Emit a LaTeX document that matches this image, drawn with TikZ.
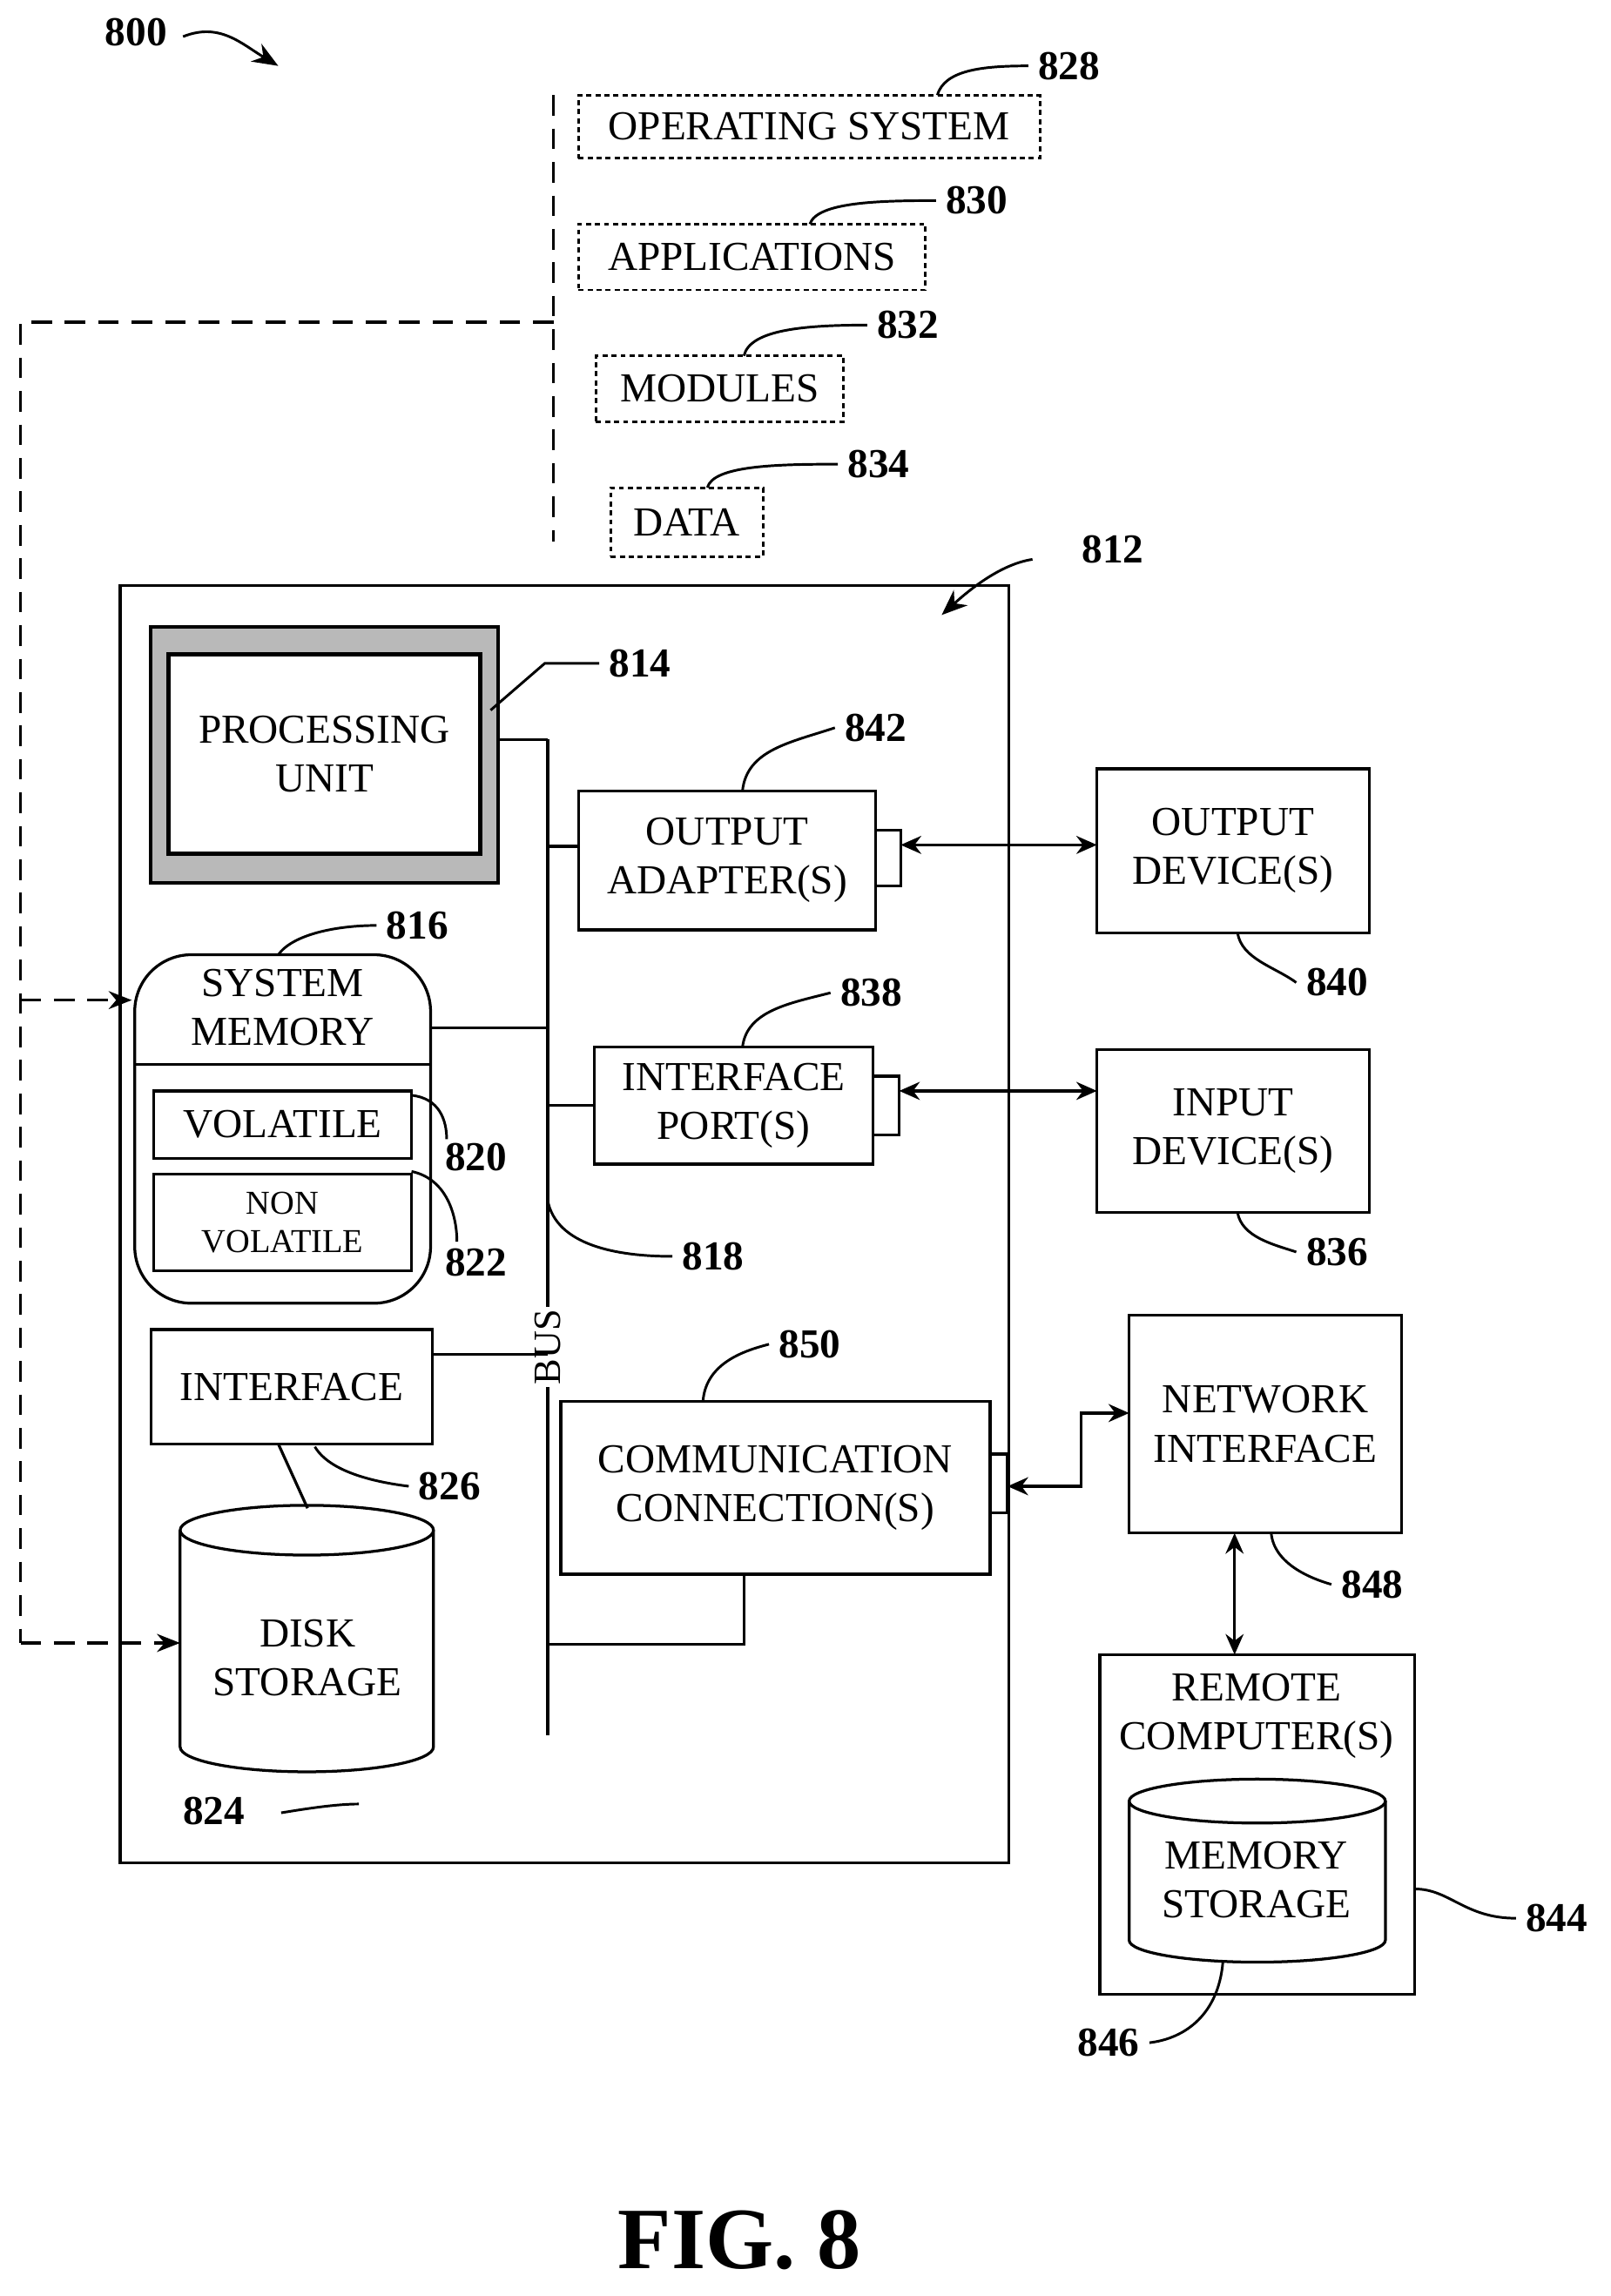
\documentclass[tikz,border=0pt]{standalone}
\usepackage{fontspec}
\setmainfont{Liberation Serif}
\usetikzlibrary{fit,arrows.meta}
\begin{document}
\begin{tikzpicture}[x=0.02cm,y=-0.02cm,line width=1.1pt,
  box/.style={draw,inner sep=0pt,align=center,font=\fontsize{16}{19}\selectfont},
  sw/.style={draw,dash pattern=on 2pt off 1.5pt,line width=1pt,inner sep=0pt,font=\fontsize{16}{19}\selectfont},
  num/.style={font=\bfseries\fontsize{16}{19}\selectfont},
  lead/.style={line width=1pt},
  dar/.style={line width=1.1pt,{Stealth[length=8pt,width=7pt]}-{Stealth[length=8pt,width=7pt]}},
  dsh/.style={line width=1.1pt,dash pattern=on 8pt off 5pt}]
\useasboundingbox (0,0) rectangle (1100,1568);
% 800
\node[num] (n800) at (93,22) {800};
\draw[lead,-{Stealth[length=10pt,width=8pt]}] (125,25) .. controls (150,15) and (165,30) .. (190,45);
% software
\coordinate (vt) at (378,65); \coordinate (vb) at (378,370); \coordinate (vj) at (378,220);
\coordinate (lc) at (14,220); \coordinate (lb) at (14,1122); \coordinate (lm) at (14,683);
\draw[dsh] (vt) -- (vb);
\draw[dsh] (vj) -- (lc) -- (lb);
\node[sw,fit={(395,65) (710,108)}] (os) {}; \node[font=\fontsize{16}{19}\selectfont] at (os) {OPERATING SYSTEM};
\node[sw,fit={(395,153) (632,198)}] (app) {}; \node[font=\fontsize{16}{19}\selectfont] at (app) {APPLICATIONS};
\node[sw,fit={(407,243) (576,288)}] (mod) {}; \node[font=\fontsize{16}{19}\selectfont] at (mod) {MODULES};
\node[sw,fit={(417,333) (521,380)}] (dat) {}; \node[font=\fontsize{16}{19}\selectfont] at (dat) {DATA};
\node[num] (n828) at (730,45) {828};
\node[num] (n830) at (667,137) {830};
\node[num] (n832) at (620,222) {832};
\node[num] (n834) at (600,317) {834};
\draw[lead] (640,65) .. controls (645,48) and (670,45) .. (n828.west);
\draw[lead] (553,153) .. controls (558,138) and (600,137) .. (n830.west);
\draw[lead] (508,243) .. controls (512,225) and (550,222) .. (n832.west);
\draw[lead] (483,333) .. controls (487,318) and (530,317) .. (n834.west);
% main box
\node[draw,fit={(82,400) (689,1272)},inner sep=0pt] (main) {};
\node[num] (n812) at (760,375) {812};
\draw[lead,-{Stealth[length=10pt,width=8pt]}] (705,382) .. controls (685,385) and (665,400) .. (643,420);
% processing unit
\node[draw,fill=gray!55,line width=1.5pt,fit={(103,428) (340,603)},inner sep=0pt] (puo) {};
\node[box,fill=white,line width=1.8pt,fit={(115,447) (328,583)}] (pu) {};
\node[align=center,font=\fontsize{16}{19}\selectfont] at (pu) {PROCESSING\\UNIT};
\node[num] (n814) at (437,453) {814};
\draw[lead] (335,485) -- (372,453) -- (n814.west);
% bus
\coordinate (bt) at (374,505); \coordinate (bb) at (374,1185);
\draw (bt) -- (bb);
\draw (340,505) -- (bt);
\node[fill=white,rotate=90,inner sep=1pt,font=\fontsize{15}{18}\selectfont] (bus) at (374,920) {BUS};
% output adapter
\node[box,fit={(395,540) (598,635)}] (oa) {}; \node[align=center,font=\fontsize{16}{19}\selectfont] at (oa) {OUTPUT\\ADAPTER(S)};
\node[draw,fit={(598,567) (615,605)},inner sep=0pt] (oac) {};
\draw (374,578) -- (395,578);
\node[box,fit={(749,525) (935,637)}] (od) {}; \node[align=center,font=\fontsize{16}{19}\selectfont] at (od) {OUTPUT\\DEVICE(S)};
\draw[dar] (615,577) -- (749,577);
\node[num] (n842) at (598,497) {842};
\draw[lead] (507,540) .. controls (510,512) and (540,507) .. (n842.west);
\node[num] (n840) at (913,671) {840};
\draw[lead] (845,637) .. controls (848,655) and (870,660) .. (n840.west);
% system memory
\node[draw,rounded corners=22pt,fit={(92,652) (294,890)},inner sep=0pt] (sm) {};
\draw (92,727) -- (294,727);
\node[align=center,font=\fontsize{16}{19}\selectfont] at (193,688) {SYSTEM\\MEMORY};
\node[box,fit={(105,745) (281,791)}] (vol) {}; \node[font=\fontsize{16}{19}\selectfont] at (vol) {VOLATILE};
\node[box,fit={(105,802) (281,868)}] (nvol) {}; \node[align=center,font=\fontsize{13}{15}\selectfont] at (nvol) {NON\\VOLATILE};
\draw (294,702) -- (374,702);
\node[num] (n816) at (285,632) {816};
\draw[lead] (190,652) .. controls (200,638) and (230,632) .. (n816.west);
\node[num] (n820) at (325,790) {820};
\draw[lead] (281,748) .. controls (300,750) and (305,765) .. (305,778);
\node[num] (n822) at (325,862) {822};
\draw[lead] (281,800) .. controls (305,805) and (312,830) .. (312,848);
\node[num] (n818) at (487,858) {818};
\draw[lead] (374,820) .. controls (380,850) and (420,858) .. (n818.west);
% interface port
\node[box,fit={(406,715) (596,795)}] (ip) {}; \node[align=center,font=\fontsize{16}{19}\selectfont] at (ip) {INTERFACE\\PORT(S)};
\node[draw,fit={(596,735) (614,775)},inner sep=0pt] (ipc) {};
\draw (374,755) -- (406,755);
\node[box,fit={(749,717) (935,828)}] (id) {}; \node[align=center,font=\fontsize{16}{19}\selectfont] at (id) {INPUT\\DEVICE(S)};
\draw[dar] (614,745) -- (749,745);
\node[num] (n838) at (595,678) {838};
\draw[lead] (507,715) .. controls (510,690) and (540,685) .. (n838.west);
\node[num] (n836) at (913,855) {836};
\draw[lead] (845,828) .. controls (848,845) and (870,850) .. (n836.west);
% interface
\node[box,fit={(103,908) (295,986)}] (itf) {}; \node[font=\fontsize{16}{19}\selectfont] at (itf) {INTERFACE};
\draw (295,925) -- (bus.east|-295,925);
\node[num] (n826) at (307,1015) {826};
\draw[lead] (215,988) .. controls (225,1005) and (255,1012) .. (n826.west);
\draw (190,986) -- (210,1030);
% disk storage
\draw (123,1045) -- (123,1193) arc[start angle=180,end angle=360,x radius=1.73cm,y radius=0.34cm] -- (296,1045);
\draw (209.5,1045) ellipse[x radius=1.73cm,y radius=0.34cm];
\coordinate (ds) at (123,1122);
\node[align=center,font=\fontsize{16}{19}\selectfont] (dsk) at (210,1132) {DISK\\STORAGE};
\node[num] (n824) at (146,1237) {824};
\draw[lead] (192,1238) .. controls (210,1235) and (230,1232) .. (245,1232);
\draw[dsh,-{Stealth[length=9pt,width=7pt]}] (lm) -- (90,683);
\draw[dsh,-{Stealth[length=9pt,width=7pt]}] (lb) -- (ds);
% communication
\node[box,fit={(383,957) (676,1075)}] (cc) {}; \node[align=center,font=\fontsize{16}{19}\selectfont] at (cc) {COMMUNICATION\\CONNECTION(S)};
\node[draw,fit={(676,993) (688,1033)},inner sep=0pt] (ccc) {};
\draw (374,1123) -- (508,1123) -- (508,1075);
\node[num] (n850) at (553,918) {850};
\draw[lead] (480,957) .. controls (482,930) and (510,922) .. (n850.west);
\node[box,fit={(771,898) (957,1047)}] (ni) {}; \node[align=center,font=\fontsize{16}{19}\selectfont] at (ni) {NETWORK\\INTERFACE};
\draw[dar] (688,1015) -- (738,1015) -- (738,965) -- (771,965);
\node[num] (n848) at (937,1082) {848};
\draw[lead] (868,1047) .. controls (870,1068) and (895,1078) .. (n848.west);
% remote
\node[box,fit={(751,1130) (966,1362)}] (rc) {};
\node[align=center,font=\fontsize{16}{19}\selectfont] at (858,1172) {REMOTE\\COMPUTER(S)};
\draw[dar] (843,1047) -- (843,1130);
\draw (771,1230) -- (771,1325) arc[start angle=180,end angle=360,x radius=1.75cm,y radius=0.3cm] -- (946,1230);
\draw (858.5,1230) ellipse[x radius=1.75cm,y radius=0.3cm];
\node[align=center,font=\fontsize{16}{19}\selectfont] (ms) at (858,1284) {MEMORY\\STORAGE};
\node[num] (n846) at (757,1395) {846};
\draw[lead] (835,1340) .. controls (832,1375) and (810,1392) .. (n846.east);
\node[num] (n844) at (1063,1310) {844};
\draw[lead] (966,1290) .. controls (990,1290) and (1000,1310) .. (n844.west);
\node[font=\bfseries\fontsize{34}{40}\selectfont] (fig) at (505,1530) {FIG. 8};
\end{tikzpicture}
\end{document}
